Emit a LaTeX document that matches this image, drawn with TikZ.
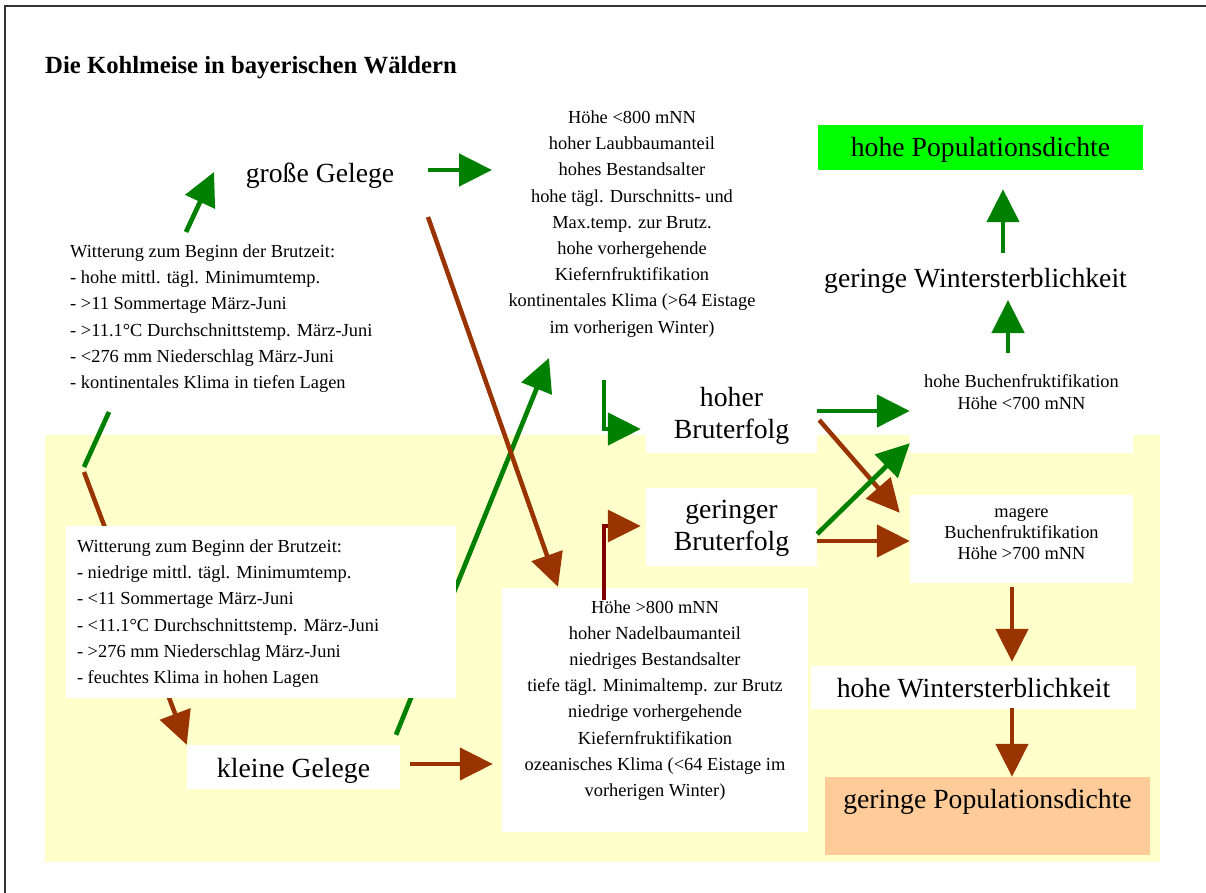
\documentclass[tikz,border=0pt]{standalone}
\usepackage{fontspec}
\setmainfont{Liberation Serif}
\usepackage{xcolor}
\usepackage{tikz}
\usetikzlibrary{arrows.meta}

\definecolor{gruen}{HTML}{008000}
\definecolor{braun}{HTML}{993300}
\definecolor{dunkelrot}{HTML}{800000}
\definecolor{hellgelb}{HTML}{FFFFCC}
\definecolor{hellgruen}{HTML}{00FF00}
\definecolor{apricot}{HTML}{FFCC99}
\definecolor{rahmen}{HTML}{333333}

\newcommand{\zeilen}[2]{\begin{tabular}[t]{@{}#1@{}}#2\end{tabular}}

\tikzset{
  grosstext/.style={font=\fontsize{27.7}{32}\selectfont},
  kleintext/.style={font=\fontsize{18.4}{26.2}\selectfont},
  kasten/.style={fill=white,inner ysep=0pt,anchor=base},
  gpfeil/.style={draw=gruen,line width=4.7pt,-{Triangle[length=33pt,width=32pt]}},
  bpfeil/.style={draw=braun,line width=4.5pt,-{Triangle[length=33pt,width=32pt]}},
  rpfeil/.style={draw=dunkelrot,line width=3.5pt,-{Triangle[length=33pt,width=32pt,color=braun]}}
}

\begin{document}
\begin{tikzpicture}[x=1pt,y=-1pt]
   \useasboundingbox (0,0) rectangle (1206,893);
   \fill[hellgelb] (45,435) rectangle (1160,862);
   \draw[rahmen,line width=1.7pt] (5,893) -- (5,6) -- (1206,6);

   \node[anchor=base west,inner sep=0pt,font=\bfseries\fontsize{24.7}{28}\selectfont] (titel) at (45,74) {Die Kohlmeise in bayerischen Wäldern};
   \node[grosstext,anchor=base] (gelege_gross) at (320,183) {große Gelege};
   \node[kleintext,anchor=base west,inner sep=0pt] (witt_hoch) at (70,257.5) {\zeilen{l}{Witterung zum Beginn der Brutzeit:\\
      - hohe mittl. tägl. Minimumtemp.\\ - >11 Sommertage März-Juni\\ - >11.1°C Durchschnittstemp. März-Juni\\
      - <276 mm Niederschlag März-Juni\\ - kontinentales Klima in tiefen Lagen}};
   \node[kleintext,anchor=base] (laub) at (632,123.5) {\zeilen{c}{Höhe <800 mNN\\ hoher Laubbaumanteil\\ hohes Bestandsalter\\
      hohe tägl. Durschnitts- und\\ Max.temp. zur Brutz.\\ hohe vorhergehende\\ Kiefernfruktifikation\\
      kontinentales Klima (>64 Eistage\\ im vorherigen Winter)}};
   \node[kasten,grosstext,text height=32pt,text depth=12pt,minimum width=213pt] (gelege_klein) at (293.5,777) {kleine Gelege};

   % hinter dem Kasten
   \draw[gpfeil] ([shift={(102.5,-10)}]gelege_klein.north) -- ([shift={(-83,234.5)}]laub.base);
   \draw[bpfeil] ([shift={(14,214.5)}]witt_hoch.base west) -- (gelege_klein.north west);
   \draw[gruen,line width=4.7pt] ([shift={(39,154.5)}]witt_hoch.base west) -- ([shift={(14,209.5)}]witt_hoch.base west);

   \node[kasten,kleintext,inner xsep=11pt,text height=26.5pt,text depth=145.5pt] (witt_tief) at (261,552.5) {\zeilen{p{368pt}}{Witterung zum Beginn der Brutzeit:\\
      - niedrige mittl. tägl. Minimumtemp.\\ - <11 Sommertage März-Juni\\ - <11.1°C Durchschnittstemp. März-Juni\\
      - >276 mm Niederschlag März-Juni\\ - feuchtes Klima in hohen Lagen}};
   \node[kasten,kleintext,text height=25pt,text depth=219pt,minimum width=306pt] (nadel) at (655,613) {\zeilen{c}{Höhe >800 mNN\\
      hoher Nadelbaumanteil\\ niedriges Bestandsalter\\ tiefe tägl. Minimaltemp. zur Brutz\\ niedrige vorhergehende\\
      Kiefernfruktifikation\\ ozeanisches Klima (<64 Eistage im\\ vorherigen Winter)}};
   \node[kasten,grosstext,text height=31pt,text depth=47pt,minimum width=171pt] (brut_hoch) at (731.5,406) {\zeilen{c}{hoher\\ Bruterfolg}};
   \node[kasten,grosstext,text height=30pt,text depth=48pt,minimum width=171pt] (brut_ger) at (731.5,518) {\zeilen{c}{geringer\\ Bruterfolg}};
   \node[kasten,font=\fontsize{18.4}{22}\selectfont,text height=27pt,text depth=66pt,minimum width=223pt] (buche_hoch) at (1021.5,387) {\zeilen{c}{hohe Buchenfruktifikation\\ Höhe <700 mNN}};
   \node[kasten,font=\fontsize{18.4}{21}\selectfont,text height=22pt,text depth=66pt,minimum width=223pt] (buche_mager) at (1021.5,517) {\zeilen{c}{magere\\ Buchenfruktifikation\\ Höhe >700 mNN}};
   \node[kasten,grosstext,fill=hellgruen,text height=32pt,text depth=13pt,minimum width=325pt] (pop_hoch) at (980.5,157) {hohe Populationsdichte};
   \node[grosstext,anchor=base] (wint_ger) at (975.5,287) {geringe Wintersterblichkeit};
   \node[kasten,grosstext,text height=31pt,text depth=12pt,minimum width=325pt] (wint_hoch) at (973.5,697) {hohe Wintersterblichkeit};
   \node[kasten,grosstext,fill=apricot,text height=31pt,text depth=47pt,minimum width=325pt] (pop_ger) at (987.5,808) {geringe Populationsdichte};

   \draw[gpfeil] ([shift={(116,-25.5)}]witt_hoch.base west) -- ([shift={(-106,-11)}]gelege_gross.base);
   \draw[gpfeil] ([shift={(108,-13)}]gelege_gross.base) -- ([shift={(-140,46.5)}]laub.base);
   \draw[bpfeil] ([shift={(108,34)}]gelege_gross.base) -- ([shift={(-97,-1)}]nadel.north);
   \draw[gpfeil] ([shift={(-28,256.5)}]laub.base) |- ([shift={(-5,15)}]brut_hoch.west);
   \draw[rpfeil] ([shift={(-51,12)}]nadel.north) |- ([shift={(-5,-1)}]brut_ger.west);
   \draw[gpfeil] ([shift={(0,-3)}]brut_hoch.east) -- ([shift={(0,4.5)}]buche_hoch.west);
   \draw[bpfeil] ([shift={(2,6)}]brut_hoch.east) -- ([shift={(-10,18)}]buche_mager.north west);
   \draw[gpfeil] ([shift={(0,7)}]brut_ger.east) -- ([shift={(0,-10)}]buche_hoch.south west);
   \draw[bpfeil] ([shift={(0,14)}]brut_ger.east) -- ([shift={(0,2)}]buche_mager.west);
   \draw[gpfeil] ([shift={(-13.5,-7)}]buche_hoch.north) -- ([shift={(32.5,13)}]wint_ger.base);
   \draw[gpfeil] ([shift={(27.5,-34)}]wint_ger.base) -- ([shift={(22.5,19)}]pop_hoch.south);
   \draw[bpfeil] ([shift={(-9.5,4)}]buche_mager.south) -- ([shift={(38.5,-4)}]wint_hoch.north);
   \draw[bpfeil] ([shift={(38.5,-1)}]wint_hoch.south) -- ([shift={(24.5,0)}]pop_ger.north);
   \draw[bpfeil] ([shift={(10,-3)}]gelege_klein.east) -- ([shift={(-9,54)}]nadel.west);
\end{tikzpicture}
\end{document}
